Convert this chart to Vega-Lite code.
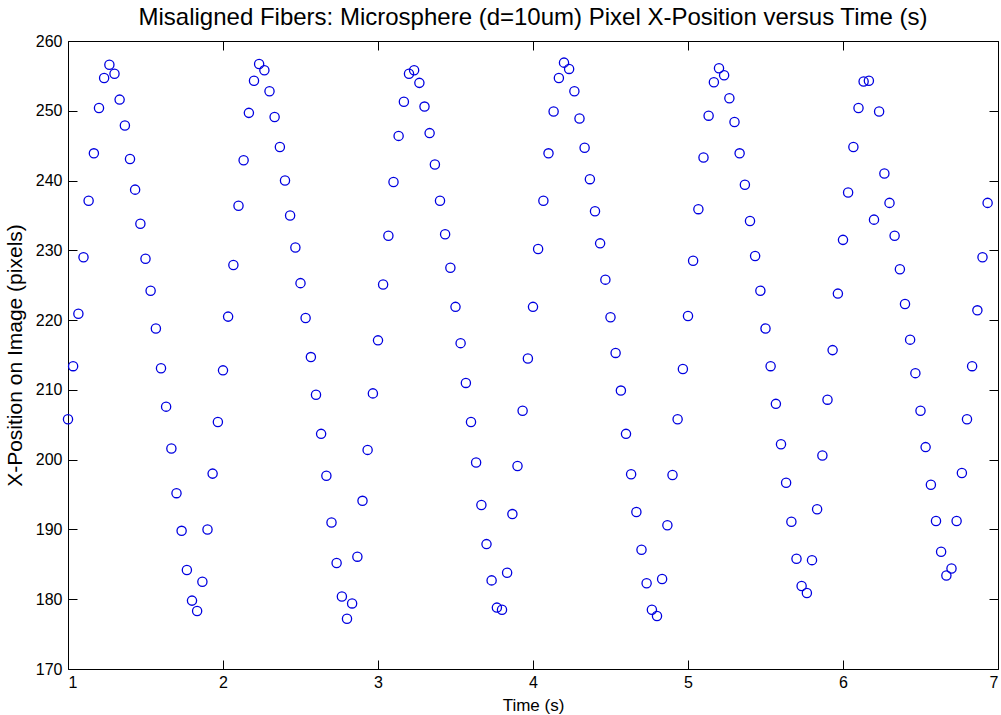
{
  "$schema": "https://vega.github.io/schema/vega-lite/v6.json",
  "width": 930,
  "height": 628,
  "autosize": {"type": "none"},
  "padding": {"left": 68, "top": 41, "right": 3, "bottom": 46},
  "background": "white",
  "title": {"text": "Misaligned Fibers: Microsphere (d=10um) Pixel X-Position versus Time (s)", "font": "Liberation Sans", "fontSize": 24, "fontWeight": "normal", "color": "#000000", "offset": 3},
  "data": {"values": [
    {"t": 1, "p": 205.8}, {"t": 1.033, "p": 213.4}, {"t": 1.067, "p": 220.9}, {"t": 1.1, "p": 229.0}, {"t": 1.133, "p": 237.1}, {"t": 1.167, "p": 243.9}, {"t": 1.2, "p": 250.4}, {"t": 1.233, "p": 254.7}, {"t": 1.267, "p": 256.6}, {"t": 1.3, "p": 255.3},
    {"t": 1.333, "p": 251.6}, {"t": 1.367, "p": 247.9}, {"t": 1.4, "p": 243.1}, {"t": 1.433, "p": 238.7}, {"t": 1.467, "p": 233.8}, {"t": 1.5, "p": 228.8}, {"t": 1.533, "p": 224.2}, {"t": 1.567, "p": 218.8}, {"t": 1.6, "p": 213.1}, {"t": 1.633, "p": 207.6},
    {"t": 1.667, "p": 201.6}, {"t": 1.7, "p": 195.2}, {"t": 1.733, "p": 189.8}, {"t": 1.767, "p": 184.2}, {"t": 1.8, "p": 179.8}, {"t": 1.833, "p": 178.3}, {"t": 1.867, "p": 182.5}, {"t": 1.9, "p": 190.0}, {"t": 1.933, "p": 198.0}, {"t": 1.967, "p": 205.4},
    {"t": 2, "p": 212.8}, {"t": 2.033, "p": 220.5}, {"t": 2.067, "p": 227.9}, {"t": 2.1, "p": 236.4}, {"t": 2.133, "p": 242.9}, {"t": 2.167, "p": 249.7}, {"t": 2.2, "p": 254.3}, {"t": 2.233, "p": 256.7}, {"t": 2.267, "p": 255.8}, {"t": 2.3, "p": 252.8},
    {"t": 2.333, "p": 249.1}, {"t": 2.367, "p": 244.8}, {"t": 2.4, "p": 240.0}, {"t": 2.433, "p": 235.0}, {"t": 2.467, "p": 230.4}, {"t": 2.5, "p": 225.3}, {"t": 2.533, "p": 220.3}, {"t": 2.567, "p": 214.7}, {"t": 2.6, "p": 209.3}, {"t": 2.633, "p": 203.7},
    {"t": 2.667, "p": 197.7}, {"t": 2.7, "p": 191.0}, {"t": 2.733, "p": 185.2}, {"t": 2.767, "p": 180.4}, {"t": 2.8, "p": 177.2}, {"t": 2.833, "p": 179.4}, {"t": 2.867, "p": 186.1}, {"t": 2.9, "p": 194.1}, {"t": 2.933, "p": 201.4}, {"t": 2.967, "p": 209.5},
    {"t": 3, "p": 217.1}, {"t": 3.033, "p": 225.1}, {"t": 3.067, "p": 232.1}, {"t": 3.1, "p": 239.8}, {"t": 3.133, "p": 246.4}, {"t": 3.167, "p": 251.3}, {"t": 3.2, "p": 255.3}, {"t": 3.233, "p": 255.8}, {"t": 3.267, "p": 254.0}, {"t": 3.3, "p": 250.6},
    {"t": 3.333, "p": 246.8}, {"t": 3.367, "p": 242.3}, {"t": 3.4, "p": 237.1}, {"t": 3.433, "p": 232.3}, {"t": 3.467, "p": 227.5}, {"t": 3.5, "p": 221.9}, {"t": 3.533, "p": 216.7}, {"t": 3.567, "p": 211.0}, {"t": 3.6, "p": 205.4}, {"t": 3.633, "p": 199.6},
    {"t": 3.667, "p": 193.5}, {"t": 3.7, "p": 187.9}, {"t": 3.733, "p": 182.7}, {"t": 3.767, "p": 178.8}, {"t": 3.8, "p": 178.5}, {"t": 3.833, "p": 183.8}, {"t": 3.867, "p": 192.2}, {"t": 3.9, "p": 199.1}, {"t": 3.933, "p": 207.0}, {"t": 3.967, "p": 214.5},
    {"t": 4, "p": 221.9}, {"t": 4.033, "p": 230.2}, {"t": 4.067, "p": 237.1}, {"t": 4.1, "p": 243.9}, {"t": 4.133, "p": 249.9}, {"t": 4.167, "p": 254.7}, {"t": 4.2, "p": 256.9}, {"t": 4.233, "p": 256.0}, {"t": 4.267, "p": 252.8}, {"t": 4.3, "p": 248.9},
    {"t": 4.333, "p": 244.7}, {"t": 4.367, "p": 240.2}, {"t": 4.4, "p": 235.6}, {"t": 4.433, "p": 231.0}, {"t": 4.467, "p": 225.8}, {"t": 4.5, "p": 220.4}, {"t": 4.533, "p": 215.3}, {"t": 4.567, "p": 209.9}, {"t": 4.6, "p": 203.7}, {"t": 4.633, "p": 197.9},
    {"t": 4.667, "p": 192.5}, {"t": 4.7, "p": 187.1}, {"t": 4.733, "p": 182.3}, {"t": 4.767, "p": 178.5}, {"t": 4.8, "p": 177.6}, {"t": 4.833, "p": 182.9}, {"t": 4.867, "p": 190.6}, {"t": 4.9, "p": 197.8}, {"t": 4.933, "p": 205.8}, {"t": 4.967, "p": 213.0},
    {"t": 5, "p": 220.6}, {"t": 5.033, "p": 228.5}, {"t": 5.067, "p": 235.9}, {"t": 5.1, "p": 243.3}, {"t": 5.133, "p": 249.3}, {"t": 5.167, "p": 254.1}, {"t": 5.2, "p": 256.1}, {"t": 5.233, "p": 255.1}, {"t": 5.267, "p": 251.8}, {"t": 5.3, "p": 248.4},
    {"t": 5.333, "p": 243.9}, {"t": 5.367, "p": 239.4}, {"t": 5.4, "p": 234.2}, {"t": 5.433, "p": 229.2}, {"t": 5.467, "p": 224.2}, {"t": 5.5, "p": 218.8}, {"t": 5.533, "p": 213.4}, {"t": 5.567, "p": 208.0}, {"t": 5.6, "p": 202.2}, {"t": 5.633, "p": 196.7},
    {"t": 5.667, "p": 191.1}, {"t": 5.7, "p": 185.8}, {"t": 5.733, "p": 181.9}, {"t": 5.767, "p": 180.9}, {"t": 5.8, "p": 185.6}, {"t": 5.833, "p": 192.9}, {"t": 5.867, "p": 200.6}, {"t": 5.9, "p": 208.6}, {"t": 5.933, "p": 215.7}, {"t": 5.967, "p": 223.8},
    {"t": 6, "p": 231.5}, {"t": 6.033, "p": 238.3}, {"t": 6.067, "p": 244.8}, {"t": 6.1, "p": 250.4}, {"t": 6.133, "p": 254.2}, {"t": 6.167, "p": 254.3}, {"t": 6.2, "p": 234.4}, {"t": 6.233, "p": 249.9}, {"t": 6.267, "p": 241.0}, {"t": 6.3, "p": 236.8},
    {"t": 6.333, "p": 232.1}, {"t": 6.367, "p": 227.3}, {"t": 6.4, "p": 222.3}, {"t": 6.433, "p": 217.2}, {"t": 6.467, "p": 212.4}, {"t": 6.5, "p": 207.0}, {"t": 6.533, "p": 201.8}, {"t": 6.567, "p": 196.4}, {"t": 6.6, "p": 191.2}, {"t": 6.633, "p": 186.8},
    {"t": 6.667, "p": 183.4}, {"t": 6.7, "p": 184.4}, {"t": 6.733, "p": 191.2}, {"t": 6.767, "p": 198.1}, {"t": 6.8, "p": 205.8}, {"t": 6.833, "p": 213.4}, {"t": 6.867, "p": 221.4}, {"t": 6.9, "p": 229.0}, {"t": 6.933, "p": 236.8}
  ]},
  "layer": [
    {
      "mark": {"type": "point", "shape": "circle", "filled": false, "size": 85, "strokeWidth": 1.3, "color": "#0000e0", "opacity": 1},
      "encoding": {
        "x": {"field": "t", "type": "quantitative", "scale": {"domain": [1, 7], "nice": false, "zero": false},
              "axis": {"orient": "bottom", "title": "Time (s)", "values": [1, 2, 3, 4, 5, 6, 7], "tickSize": -9, "labelPadding": 14, "titlePadding": 7}},
        "y": {"field": "p", "type": "quantitative", "scale": {"domain": [170, 260], "nice": false, "zero": false},
              "axis": {"orient": "left", "title": "X-Position on Image (pixels)", "values": [170, 180, 190, 200, 210, 220, 230, 240, 250, 260], "tickSize": -9, "labelPadding": 15, "titlePadding": 10, "titleFontSize": 21}}
      }
    },
    {
      "mark": {"type": "point", "opacity": 0},
      "encoding": {
        "x": {"field": "t", "type": "quantitative", "scale": {"domain": [1, 7], "nice": false, "zero": false},
              "axis": {"orient": "top", "title": null, "labels": false, "values": [1, 2, 3, 4, 5, 6, 7], "tickSize": -9}},
        "y": {"field": "p", "type": "quantitative", "scale": {"domain": [170, 260], "nice": false, "zero": false},
              "axis": {"orient": "right", "title": null, "labels": false, "values": [170, 180, 190, 200, 210, 220, 230, 240, 250, 260], "tickSize": -9}}
      }
    }
  ],
  "resolve": {"axis": {"x": "independent", "y": "independent"}},
  "config": {
    "view": {"stroke": "#000000", "strokeWidth": 1},
    "axis": {"grid": false, "domain": false, "labelFont": "Liberation Sans", "titleFont": "Liberation Sans", "labelFontSize": 16, "titleFontSize": 17, "titleFontWeight": "normal", "labelColor": "#000000", "titleColor": "#000000", "tickColor": "#000000", "tickWidth": 1}
  }
}
